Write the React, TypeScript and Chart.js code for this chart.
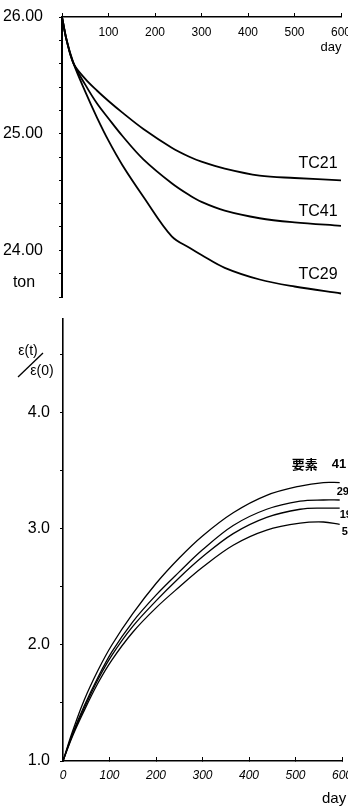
import React, { useEffect, useRef } from 'react';
import { Chart, registerables } from 'chart.js';

Chart.register(...registerables);

// ---------- data: upper chart (weight, ton) ----------
const topDays = [0, 10, 25, 50, 75, 100, 130, 175, 236, 275, 300, 350, 425, 500, 600];
const tc21 = [26.0, 25.8, 25.6, 25.47, 25.37, 25.28, 25.18, 25.04, 24.88, 24.8, 24.76, 24.7, 24.64, 24.62, 24.6];
const tc41 = [26.0, 25.8, 25.6, 25.42, 25.26, 25.13, 24.98, 24.78, 24.575, 24.47, 24.415, 24.34, 24.275, 24.24, 24.21];
const tc29 = [26.0, 25.8, 25.6, 25.36, 25.14, 24.94, 24.73, 24.46, 24.12, 24.02, 23.96, 23.85, 23.75, 23.69, 23.63];
const topNames = ['TC21', 'TC41', 'TC29'];
const topMajorTicks = [24, 25, 26];
const topUnit = 'ton';
const dayUnit = 'day';

// ---------- data: lower chart (strain ratio) ----------
const bottomDays = [0, 20, 45, 75, 105, 150, 200, 250, 300, 366, 438, 510, 560, 595];
const e41 = [1.0, 1.25, 1.52, 1.78, 2.0, 2.27, 2.53, 2.75, 2.94, 3.14, 3.29, 3.37, 3.4, 3.4];
const e29 = [1.0, 1.23, 1.47, 1.72, 1.94, 2.2, 2.43, 2.63, 2.82, 3.03, 3.17, 3.24, 3.25, 3.25];
const e19 = [1.0, 1.22, 1.45, 1.7, 1.91, 2.16, 2.38, 2.58, 2.76, 2.96, 3.1, 3.17, 3.18, 3.18];
const e5 = [1.0, 1.21, 1.43, 1.67, 1.87, 2.11, 2.32, 2.5, 2.67, 2.86, 2.99, 3.05, 3.06, 3.04];
const bottomNames = ['41', '29', '19', '5'];
const elementWord = '要素';
const bottomMajorTicks = [1, 2, 3, 4];
const ratioTop = 'ε(t)';
const ratioBottom = 'ε(0)';

const FONT = '"Liberation Sans", "DejaVu Sans", sans-serif';

const toPoints = (xs: number[], ys: number[]) => xs.map((x, i) => ({ x, y: ys[i] }));

const lineDs = (data: any, width: number) => ({
  data,
  borderColor: '#000',
  borderWidth: width,
  pointRadius: 0,
  tension: 0.35,
  clip: 8,
});

const fixAxis = (size: number, horizontal: boolean) => (s: any) => {
  if (horizontal) s.height = size; else s.width = size;
  s.paddingLeft = 0; s.paddingRight = 0; s.paddingTop = 0; s.paddingBottom = 0;
};

const isMajor = (v: number, list: number[]) => list.some((m) => Math.abs(m - v) < 1e-6);

export default function App() {
  const topRef = useRef<HTMLCanvasElement>(null);
  const botRef = useRef<HTMLCanvasElement>(null);

  useEffect(() => {
    const topLabels = {
      id: 'topLabels',
      afterDraw(chart: any) {
        const ctx = chart.ctx;
        const xs = chart.scales.x;
        const ys = chart.scales.y;
        ctx.save();
        ctx.fillStyle = '#000';
        ctx.textBaseline = 'middle';
        ctx.font = `16px ${FONT}`;
        ctx.textAlign = 'center';
        const ends = [tc21, tc41, tc29];
        const dy = [-17, -14, -19];
        ends.forEach((s, i) => {
          const px = xs.getPixelForValue(topDays[topDays.length - 1]);
          const py = ys.getPixelForValue(s[s.length - 1]);
          ctx.fillText(topNames[i], px - 23, py + dy[i]);
        });
        ctx.font = `16px ${FONT}`;
        ctx.fillText(topUnit, 24, 283);
        ctx.font = `13px ${FONT}`;
        ctx.fillText(dayUnit, 331, 47);
        ctx.restore();
      },
    };

    const botLabels = {
      id: 'botLabels',
      afterDraw(chart: any) {
        const ctx = chart.ctx;
        const xs = chart.scales.x;
        const ys = chart.scales.y;
        ctx.save();
        ctx.fillStyle = '#000';
        ctx.strokeStyle = '#000';
        ctx.textBaseline = 'middle';
        const series = [e41, e29, e19, e5];
        const off = [
          { dx: -8, dy: -18 },
          { dx: -3, dy: -8 },
          { dx: 0, dy: 7 },
          { dx: 2, dy: 8 },
        ];
        ctx.textAlign = 'left';
        series.forEach((s, i) => {
          const px = xs.getPixelForValue(bottomDays[bottomDays.length - 1]);
          const py = ys.getPixelForValue(s[s.length - 1]);
          ctx.font = i === 0 ? `bold 13px ${FONT}` : `bold 11px ${FONT}`;
          ctx.fillText(bottomNames[i], px + off[i].dx, py + off[i].dy);
        });
        const p41x = xs.getPixelForValue(bottomDays[bottomDays.length - 1]);
        const p41y = ys.getPixelForValue(e41[e41.length - 1]);
        ctx.font = `bold 13px "Noto Sans CJK JP", sans-serif`;
        ctx.textAlign = 'center';
        ctx.fillText(elementWord, p41x - 35, p41y - 19);
        ctx.font = `14px ${FONT}`;
        ctx.textAlign = 'center';
        ctx.fillText(ratioTop, 28, 46);
        ctx.fillText(ratioBottom, 42, 66);
        ctx.lineWidth = 1.3;
        ctx.beginPath();
        ctx.moveTo(18, 72);
        ctx.lineTo(43, 48);
        ctx.stroke();
        ctx.font = `15px ${FONT}`;
        ctx.textAlign = 'left';
        ctx.fillText(dayUnit, 322, 494);
        ctx.restore();
      },
    };

    const top = new Chart(topRef.current!, {
      type: 'line',
      data: {
        datasets: [lineDs(toPoints(topDays, tc21), 1.8), lineDs(toPoints(topDays, tc41), 1.8), lineDs(toPoints(topDays, tc29), 1.8)],
      },
      options: {
        animation: false,
        responsive: false,
        devicePixelRatio: 1,
        layout: { padding: { left: 0, right: 7, top: 0, bottom: 8 } },
        plugins: { legend: { display: false }, tooltip: { enabled: false } },
        scales: {
          x: {
            type: 'linear',
            position: 'top',
            min: 0,
            max: 600,
            afterFit: fixAxis(17, true),
            ticks: {
              stepSize: 100,
              mirror: true,
              padding: 8,
              maxRotation: 0,
              color: '#000',
              font: { family: FONT, size: 12 },
              callback: (v: any) => (Number(v) === 0 ? '' : String(v)),
            },
            grid: { drawOnChartArea: false, drawTicks: true, tickLength: 4, color: '#000', lineWidth: 1 },
            border: { display: true, color: '#000', width: 1.6 },
          },
          y: {
            type: 'linear',
            position: 'left',
            min: 23.6,
            max: 26.0,
            afterFit: fixAxis(62, false),
            ticks: {
              stepSize: 0.2,
              includeBounds: false,
              padding: 16,
              color: '#000',
              font: { family: FONT, size: 16 },
              callback: (v: any) => (isMajor(Number(v), topMajorTicks) ? Number(v).toFixed(2) : ''),
            },
            grid: { drawOnChartArea: false, drawTicks: true, tickLength: 3, color: '#000', lineWidth: 1 },
            border: { display: true, color: '#000', width: 2 },
          },
        },
      },
      plugins: [topLabels],
    } as any);

    const bot = new Chart(botRef.current!, {
      type: 'line',
      data: {
        datasets: [
          lineDs(toPoints(bottomDays, e41), 1.3),
          lineDs(toPoints(bottomDays, e29), 1.3),
          lineDs(toPoints(bottomDays, e19), 1.3),
          lineDs(toPoints(bottomDays, e5), 1.3),
        ],
      },
      options: {
        animation: false,
        responsive: false,
        devicePixelRatio: 1,
        layout: { padding: { left: 0, right: 6, top: 14, bottom: 0 } },
        plugins: { legend: { display: false }, tooltip: { enabled: false } },
        scales: {
          x: {
            type: 'linear',
            position: 'bottom',
            min: 0,
            max: 600,
            afterFit: fixAxis(45, true),
            ticks: {
              stepSize: 100,
              padding: 11,
              maxRotation: 0,
              color: '#000',
              font: { family: FONT, size: 12, style: 'italic' },
            },
            grid: { drawOnChartArea: false, drawTicks: true, tickLength: -4, color: '#000', lineWidth: 1 },
            border: { display: true, color: '#000', width: 1.6 },
          },
          y: {
            type: 'linear',
            position: 'left',
            min: 1.0,
            max: 4.81,
            afterFit: fixAxis(63, false),
            ticks: {
              stepSize: 0.5,
              includeBounds: false,
              padding: 10,
              color: '#000',
              font: { family: FONT, size: 16 },
              callback: (v: any) => (isMajor(Number(v), bottomMajorTicks) ? Number(v).toFixed(1) : ''),
            },
            grid: { drawOnChartArea: false, drawTicks: true, tickLength: 3, color: '#000', lineWidth: 1 },
            border: { display: true, color: '#000', width: 1.6 },
          },
        },
      },
      plugins: [botLabels],
    } as any);

    return () => {
      top.destroy();
      bot.destroy();
    };
  }, []);

  return (
    <div style={{ position: 'absolute', left: 0, top: 0, width: 348, height: 806, background: '#fff' }}>
      <canvas ref={topRef} width={348} height={305} style={{ position: 'absolute', left: 0, top: 0, width: 348, height: 305 }} />
      <canvas ref={botRef} width={348} height={501} style={{ position: 'absolute', left: 0, top: 305, width: 348, height: 501 }} />
    </div>
  );
}
